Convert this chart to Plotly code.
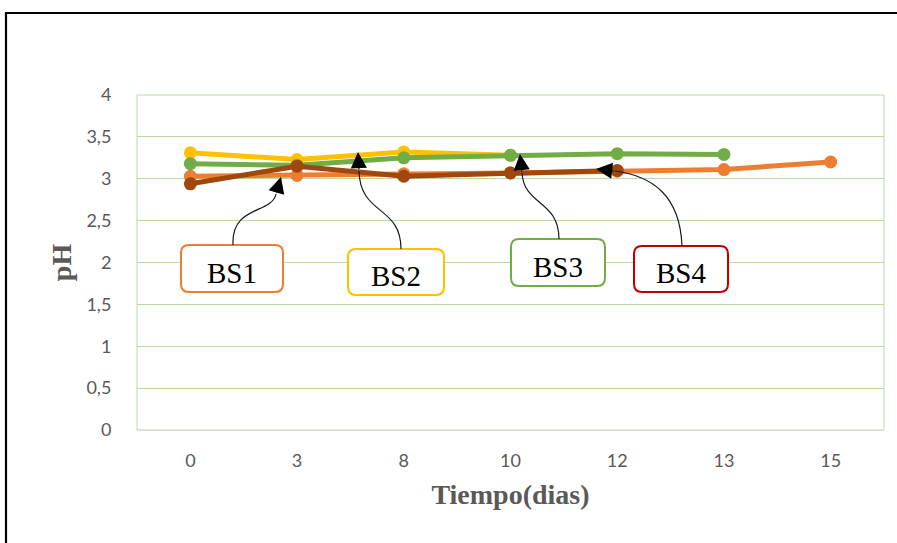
import plotly.graph_objects as go

# Sampling days (category axis) and pH readings per batch
dias = ["0", "3", "8", "10", "12", "13", "15"]
ph_bs1 = [3.03, 3.04, 3.06, 3.07, 3.09, 3.11, 3.20]
ph_bs2 = [3.31, 3.23, 3.32, 3.28]
ph_bs3 = [3.18, 3.16, 3.25, 3.28, 3.30, 3.29]
ph_bs4 = [2.94, 3.15, 3.03, 3.07, 3.10]

series_names = ["BS1", "BS2", "BS3", "BS4"]
series_values = [ph_bs1, ph_bs2, ph_bs3, ph_bs4]
line_colors = ["#ED7D31", "#FFC000", "#70AD47", "#9E480E"]
box_colors = ["#ED7D31", "#FFC000", "#70AD47", "#C00000"]

y_ticks = [0, 0.5, 1, 1.5, 2, 2.5, 3, 3.5, 4]
y_tick_text = ["0", "0,5", "1", "1,5", "2", "2,5", "3", "3,5", "4"]

W, H = 897, 543
ML, MR, MT, MB = 137, 13, 95, 113
PW, PH = W - ML - MR, H - MT - MB


def px(x):
    return (x - ML) / PW


def py(y):
    return (H - MB - y) / PH


fig = go.Figure()
for name, vals, col in zip(series_names, series_values, line_colors):
    fig.add_trace(go.Scatter(
        x=dias[:len(vals)], y=vals, name=name, mode="lines+markers",
        line=dict(color=col, width=5),
        marker=dict(color=col, size=13),
        showlegend=False,
    ))

shapes = []
annotations = []

# outer chart frame
shapes.append(dict(type="rect", xref="paper", yref="paper",
                   x0=px(6), x1=px(910), y0=py(560), y1=py(13),
                   line=dict(color="#000000", width=2.2), layer="below"))
# plot area outline
shapes.append(dict(type="rect", xref="paper", yref="paper",
                   x0=0, x1=1, y0=0, y1=1,
                   line=dict(color="#B9DBA2", width=1), layer="below"))

# callout boxes: (label, left, top, right, bottom) in pixels
boxes = [
    ("BS1", 181, 245, 283, 292),
    ("BS2", 348, 249, 444, 295),
    ("BS3", 511, 239, 605, 286),
    ("BS4", 634, 246, 728, 292),
]
r = 8
for (lab, l, t, rr, b), col in zip(boxes, box_colors):
    path = (f"M {px(l + r)},{py(t)} L {px(rr - r)},{py(t)} "
            f"Q {px(rr)},{py(t)} {px(rr)},{py(t + r)} "
            f"L {px(rr)},{py(b - r)} Q {px(rr)},{py(b)} {px(rr - r)},{py(b)} "
            f"L {px(l + r)},{py(b)} Q {px(l)},{py(b)} {px(l)},{py(b - r)} "
            f"L {px(l)},{py(t + r)} Q {px(l)},{py(t)} {px(l + r)},{py(t)} Z")
    shapes.append(dict(type="path", xref="paper", yref="paper", path=path,
                       line=dict(color=col, width=2), fillcolor="white",
                       layer="above"))
    annotations.append(dict(xref="paper", yref="paper",
                            x=px((l + rr) / 2), y=py((t + b) / 2 + 4),
                            xanchor="center", yanchor="middle",
                            text=lab, showarrow=False,
                            font=dict(family="Liberation Serif", size=29,
                                      color="#000000")))

# curved connector lines: start, control1, control2, end, arrow tip
curves = [
    ((233, 245), (231, 205), (272, 214), (276, 194), (281, 177)),
    ((401, 249), (401, 205), (360, 216), (359, 171), (358, 152)),
    ((559, 239), (559, 200), (524, 206), (522, 173), (520, 154)),
    ((682, 246), (680, 195), (652, 176), (615, 171), (596, 169)),
]
for p0, c1, c2, p1, tip in curves:
    path = (f"M {px(p0[0])},{py(p0[1])} C {px(c1[0])},{py(c1[1])} "
            f"{px(c2[0])},{py(c2[1])} {px(p1[0])},{py(p1[1])}")
    shapes.append(dict(type="path", xref="paper", yref="paper", path=path,
                       line=dict(color="#1a1a1a", width=1.2), layer="above"))
    annotations.append(dict(xref="paper", yref="paper",
                            x=px(tip[0]), y=py(tip[1]), text="",
                            showarrow=True, arrowhead=2, arrowsize=2.7,
                            arrowwidth=1.2, arrowcolor="#000000",
                            ax=p1[0] - tip[0], ay=p1[1] - tip[1],
                            standoff=0, startstandoff=0))

tick_font = dict(family="Lato", size=18, color="#595959")
title_font = dict(family="Liberation Serif", size=28, color="#595959")

fig.update_layout(
    width=W, height=H,
    margin=dict(l=ML, r=MR, t=MT, b=MB, pad=0),
    paper_bgcolor="white", plot_bgcolor="white",
    shapes=shapes, annotations=annotations,
    xaxis=dict(
        type="category", categoryorder="array", categoryarray=dias,
        range=[-0.5, len(dias) - 0.5],
        showgrid=False, showline=True, linecolor="#D9D9D9", linewidth=1,
        ticks="outside", ticklen=14, tickcolor="rgba(0,0,0,0)",
        tickfont=tick_font, zeroline=False,
        title=dict(text="<b>Tiempo(dias)</b>", font=title_font, standoff=14),
    ),
    yaxis=dict(
        range=[0, 4], tickvals=y_ticks, ticktext=y_tick_text,
        showgrid=True, gridcolor="#B9DBA2", gridwidth=1,
        zeroline=False, showline=False,
        ticks="outside", ticklen=21, tickcolor="rgba(0,0,0,0)",
        tickfont=tick_font,
        title=dict(text="<b>pH</b>", font=title_font, standoff=6),
    ),
)

fig.write_html("out.html")
